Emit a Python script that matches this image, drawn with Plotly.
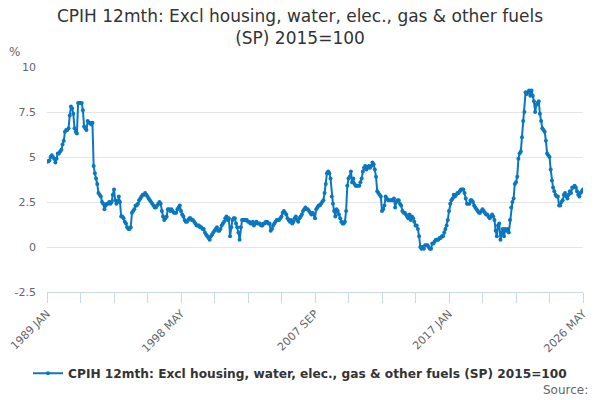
import plotly.graph_objects as go

# Monthly CPIH 12-month rate, Jan 1989 - May 2026
months = ['JAN', 'FEB', 'MAR', 'APR', 'MAY', 'JUN',
          'JUL', 'AUG', 'SEP', 'OCT', 'NOV', 'DEC']

rate_by_year = {
    1989: [4.75, 4.75, 4.8, 5.0, 5.1, 5.0, 4.9, 4.7, 4.9, 5.2, 5.2, 5.3],
    1990: [5.4, 5.7, 5.9, 6.4, 6.5, 6.5, 6.6, 7.3, 7.8, 7.7, 7.4, 6.6],
    1991: [6.4, 6.3, 8.0, 8.0, 8.0, 8.0, 7.6, 6.7, 6.6, 6.5, 7.0, 6.9],
    1992: [6.9, 6.8, 6.9, 4.5, 4.1, 3.8, 3.5, 3.0, 2.9, 2.8, 2.5, 2.4],
    1993: [2.1, 2.3, 2.4, 2.4, 2.5, 2.4, 2.5, 2.9, 3.2, 2.6, 2.4, 2.5],
    1994: [2.8, 2.5, 1.7, 1.7, 1.6, 1.4, 1.3, 1.1, 1.0, 1.0, 1.1, 1.9],
    1995: [2.0, 2.1, 2.3, 2.3, 2.4, 2.6, 2.7, 2.8, 2.9, 2.9, 3.0, 2.9],
    1996: [2.8, 2.7, 2.6, 2.5, 2.4, 2.3, 2.2, 2.2, 2.3, 2.4, 2.5, 2.4],
    1997: [2.0, 1.7, 1.5, 1.6, 1.7, 2.1, 2.1, 2.0, 2.1, 2.0, 1.9, 1.9],
    1998: [1.9, 2.1, 2.2, 2.3, 2.0, 1.8, 1.7, 1.5, 1.4, 1.4, 1.5, 1.6],
    1999: [1.6, 1.5, 1.5, 1.4, 1.3, 1.2, 1.2, 1.2, 1.1, 1.1, 1.0, 1.0],
    2000: [0.8, 0.7, 0.6, 0.5, 0.4, 0.6, 0.7, 0.8, 0.9, 1.0, 1.1, 0.9],
    2001: [0.9, 1.0, 1.2, 1.3, 1.4, 1.6, 1.7, 1.5, 1.6, 0.6, 1.1, 1.5],
    2002: [1.6, 1.6, 1.3, 1.1, 0.8, 0.4, 1.1, 1.5, 1.5, 1.5, 1.5, 1.5],
    2003: [1.4, 1.4, 1.3, 1.3, 1.4, 1.2, 1.3, 1.4, 1.3, 1.3, 1.3, 1.2],
    2004: [1.2, 1.3, 1.3, 1.4, 1.4, 1.3, 1.3, 0.9, 1.0, 1.2, 1.3, 1.4],
    2005: [1.5, 1.5, 1.5, 1.6, 1.7, 1.9, 2.0, 1.9, 1.8, 1.6, 1.5, 1.4],
    2006: [1.5, 1.3, 1.4, 1.6, 1.7, 1.5, 1.4, 1.6, 1.7, 1.8, 2.0, 2.1],
    2007: [2.2, 2.1, 2.1, 2.0, 1.9, 1.8, 1.9, 1.8, 1.6, 2.1, 2.2, 2.3],
    2008: [2.3, 2.4, 2.5, 2.6, 3.0, 3.5, 4.1, 4.2, 4.1, 3.8, 2.8, 2.4],
    2009: [2.0, 1.7, 2.1, 2.0, 1.8, 1.6, 1.4, 1.3, 1.3, 1.4, 2.0, 3.4],
    2010: [3.8, 3.9, 4.2, 3.6, 3.8, 3.5, 3.4, 3.4, 3.4, 3.4, 3.6, 3.8],
    2011: [4.2, 4.4, 4.5, 4.3, 4.4, 4.5, 4.4, 4.5, 4.7, 4.6, 4.3, 3.9],
    2012: [3.1, 3.0, 2.9, 2.8, 2.0, 2.1, 2.3, 2.8, 2.7, 2.6, 2.6, 2.6],
    2013: [2.6, 2.6, 2.7, 2.2, 2.5, 2.6, 2.6, 2.4, 2.3, 2.0, 1.9, 1.9],
    2014: [1.8, 1.7, 1.6, 1.8, 1.5, 1.7, 1.6, 1.4, 1.2, 1.2, 1.0, 0.6],
    2015: [0.0, -0.1, 0.0, -0.1, 0.1, 0.1, 0.1, 0.0, -0.1, -0.1, 0.2, 0.2],
    2016: [0.3, 0.4, 0.4, 0.4, 0.5, 0.5, 0.6, 0.6, 0.8, 1.0, 1.2, 1.5],
    2017: [2.0, 2.4, 2.6, 2.7, 2.9, 2.8, 2.9, 3.0, 3.0, 3.1, 3.2, 3.2],
    2018: [3.2, 3.0, 2.7, 2.4, 2.4, 2.4, 2.6, 2.6, 2.5, 2.3, 2.2, 2.1],
    2019: [2.0, 1.9, 1.9, 2.0, 2.1, 2.0, 1.9, 1.8, 1.8, 1.7, 1.6, 1.7],
    2020: [1.8, 1.7, 1.5, 0.9, 0.6, 1.2, 1.3, 0.4, 0.8, 1.0, 0.6, 1.0],
    2021: [0.9, 1.0, 0.8, 1.5, 2.2, 2.5, 2.7, 3.5, 3.6, 3.9, 4.9, 5.2],
    2022: [5.3, 6.1, 7.0, 7.5, 8.6, 8.5, 8.6, 8.7, 8.4, 8.7, 8.4, 8.1],
    2023: [7.5, 7.9, 8.0, 8.1, 7.4, 7.0, 6.6, 6.5, 6.4, 5.9, 5.2, 5.1],
    2024: [5.0, 4.3, 3.7, 3.3, 3.1, 2.9, 2.8, 2.8, 2.3, 2.3, 2.5, 2.6],
    2025: [2.9, 3.0, 2.8, 2.7, 2.9, 3.1, 3.0, 3.3, 3.3, 3.4, 3.3, 3.1],
    2026: [2.9, 2.8, 3.0, 3.1, 3.2],
}

labels = []
values = []
for yr, vals in rate_by_year.items():
    for i, v in enumerate(vals):
        labels.append(f'{yr} {months[i]}')
        values.append(v)

series_name = 'CPIH 12mth: Excl housing, water, elec., gas & other fuels (SP) 2015=100'

# tick marks every 28 months, labels every 112
tick_idx = list(range(0, len(labels), 28))
tickvals = [labels[i] for i in tick_idx]
ticktext = [labels[i] if i % 112 == 0 else '' for i in tick_idx]

fig = go.Figure()
fig.add_trace(go.Scatter(
    x=labels, y=values, mode='lines+markers', name=series_name,
    line=dict(color='#0a78c0', width=2),
    marker=dict(color='#0a78c0', size=4)))

fig.update_layout(
    width=600, height=400,
    font=dict(family='DejaVu Sans', color='#333333'),
    paper_bgcolor='white', plot_bgcolor='white',
    margin=dict(l=47, r=17, t=67, b=108, autoexpand=False),
    title=dict(text='CPIH 12mth: Excl housing, water, elec., gas & other fuels<br>(SP) 2015=100',
               x=0.5, xanchor='center', y=0.945, yanchor='top',
               font=dict(size=17, color='#333333')),
    showlegend=True,
    legend=dict(orientation='h', xref='container', yref='container',
                x=0.5, xanchor='center', y=0.067, yanchor='middle',
                font=dict(size=12.2, color='#333333', weight='bold')),
    xaxis=dict(type='category', range=[0, len(labels) - 1], automargin=False,
               tickmode='array', tickvals=tickvals, ticktext=ticktext,
               tickangle=-45, tickfont=dict(size=11, color='#666666'),
               ticks='outside', ticklen=10, tickcolor='#ccd6eb',
               showline=True, linecolor='#ccd6eb', showgrid=False, zeroline=False),
    yaxis=dict(range=[-2.5, 10], tickvals=[-2.5, 0, 2.5, 5, 7.5, 10],
               ticktext=['-2.5', '0', '2.5', '5', '7.5', '10'], automargin=False,
               tickfont=dict(size=11, color='#666666'),
               showgrid=True, gridcolor='#e6e6e6', zeroline=False,
               ticklabelstandoff=10),
    annotations=[
        dict(text='%', xref='paper', yref='paper', x=-0.06, y=1.067,
             xanchor='center', yanchor='middle', showarrow=False,
             font=dict(size=12, color='#666666')),
        dict(text='Source:', xref='paper', yref='paper', x=1.013, y=-0.435,
             xanchor='right', yanchor='middle', showarrow=False,
             font=dict(size=12, color='#666666')),
    ],
)

fig.write_html('out.html', config={'displayModeBar': False},
               post_script="document.body.style.margin='0';")
